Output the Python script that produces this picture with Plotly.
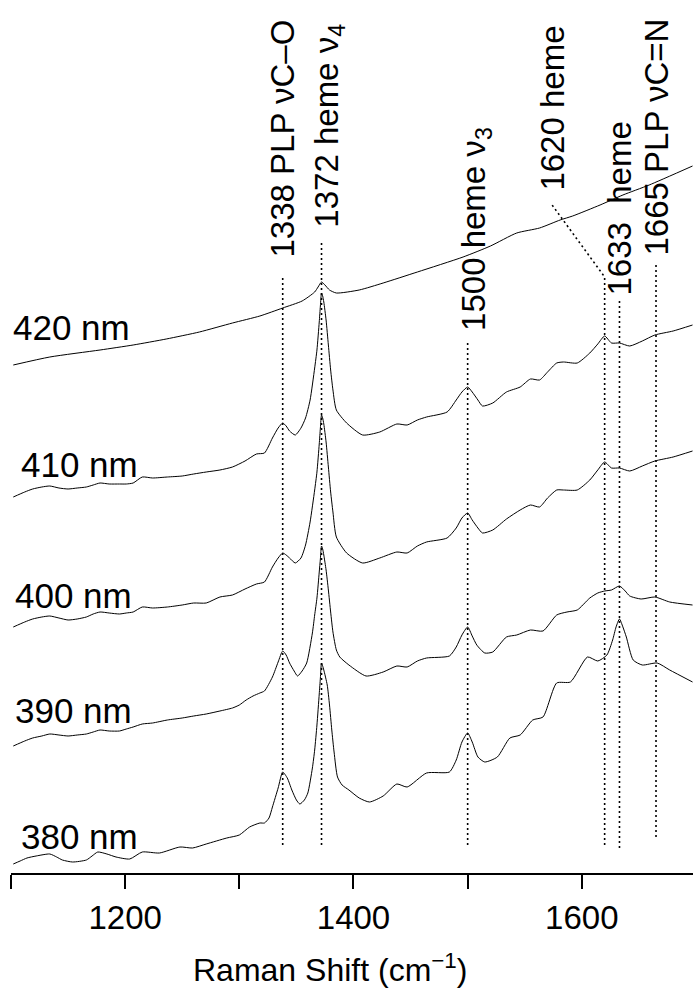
import plotly.graph_objects as go

# Raman shift grids (cm^-1) and offset intensities (a.u.) for each excitation wavelength
wn_420 = [1102, 1134, 1178, 1207, 1236, 1265, 1294, 1318, 1338, 1355,
          1366, 1369, 1372, 1375, 1379, 1385, 1405, 1426, 1456, 1496,
          1520, 1543, 1563, 1581, 1592, 1616, 1636, 1659, 1697]
int_420 = [508, 516, 523, 528, 534, 541, 550, 557, 565, 572,
           581, 586, 591, 588, 583, 580, 583, 590, 601, 616,
           627, 640, 645, 653, 657, 668, 678, 688, 707]

# 410 and 400 nm spectra share one grid
wn_410_400 = [1102, 1112, 1119, 1127, 1134, 1142, 1150, 1158, 1166, 1172,
              1178, 1186, 1195, 1201, 1207, 1215, 1224, 1237, 1250, 1260,
              1271, 1283, 1294, 1305, 1315, 1322, 1329, 1334, 1338, 1341,
              1344, 1349, 1354, 1358, 1362, 1366, 1368, 1370, 1371, 1372,
              1373, 1374, 1376, 1378, 1380, 1382, 1385, 1394, 1408, 1423,
              1438, 1447, 1456, 1464, 1482, 1490, 1495, 1500, 1504, 1509,
              1513, 1522, 1534, 1546, 1555, 1563, 1570, 1578, 1584, 1596,
              1607, 1614, 1620, 1626, 1633, 1642, 1653, 1664, 1680, 1697]
int_410 = [376, 381, 384, 386, 387, 385, 384, 385, 386, 388,
           390, 389, 389, 389, 390, 396, 395, 396, 397, 399,
           401, 403, 406, 412, 419, 420, 435, 445, 450, 447,
           442, 438, 445, 455, 473, 505, 523, 551, 567, 580,
           577, 571, 553, 528, 503, 483, 463, 450, 438, 441,
           449, 448, 453, 456, 461, 473, 481, 486, 481, 473,
           467, 470, 481, 486, 494, 493, 501, 510, 511, 510,
           520, 529, 537, 530, 530, 527, 532, 538, 542, 548]
int_400 = [246, 251, 254, 256, 257, 255, 253, 254, 256, 259,
           261, 260, 259, 260, 261, 266, 265, 266, 268, 270,
           270, 276, 278, 284, 289, 291, 306, 315, 320, 318,
           315, 310, 315, 328, 351, 383, 401, 429, 445, 458,
           455, 449, 431, 406, 381, 361, 336, 320, 310, 315,
           321, 320, 327, 331, 335, 345, 355, 360, 353, 345,
           340, 343, 354, 363, 368, 366, 375, 383, 383, 383,
           393, 403, 411, 405, 405, 402, 407, 412, 416, 422]

wn_390 = [1102, 1112, 1119, 1127, 1134, 1142, 1150, 1158, 1166, 1172,
          1178, 1186, 1195, 1201, 1207, 1215, 1224, 1237, 1250, 1260,
          1271, 1283, 1294, 1300, 1306, 1312, 1318, 1322, 1329, 1334,
          1338, 1341, 1344, 1348, 1351, 1355, 1359, 1364, 1366, 1368,
          1370, 1371, 1372, 1373, 1374, 1376, 1378, 1380, 1382, 1385,
          1388, 1396, 1411, 1426, 1438, 1447, 1456, 1464, 1484, 1490,
          1495, 1500, 1504, 1508, 1515, 1522, 1534, 1543, 1555, 1566,
          1578, 1587, 1596, 1607, 1614, 1620, 1626, 1633, 1638, 1642,
          1652, 1664, 1677, 1697]
int_390 = [127, 132, 135, 137, 139, 138, 137, 138, 139, 141,
           143, 142, 142, 144, 146, 149, 150, 153, 155, 157,
           159, 162, 165, 168, 173, 177, 180, 182, 196, 211,
           222, 218, 210, 202, 197, 202, 210, 240, 258, 275,
           301, 314, 327, 324, 318, 303, 283, 261, 241, 223,
           216, 208, 197, 201, 207, 206, 212, 215, 217, 226,
           238, 246, 237, 228, 220, 221, 236, 238, 243, 242,
           258, 261, 263, 275, 280, 282, 283, 287, 282, 277,
           274, 276, 271, 268]

wn_380 = [1102, 1108, 1114, 1122, 1134, 1140, 1145, 1154, 1166, 1171,
          1176, 1184, 1192, 1204, 1215, 1230, 1248, 1259, 1271, 1289,
          1300, 1309, 1318, 1322, 1326, 1329, 1334, 1338, 1342, 1346,
          1350, 1353, 1357, 1360, 1364, 1366, 1368, 1370, 1371, 1372,
          1373, 1374, 1377, 1379, 1381, 1383, 1386, 1390, 1396, 1405,
          1414, 1426, 1438, 1447, 1464, 1484, 1490, 1495, 1500, 1504,
          1509, 1515, 1526, 1537, 1546, 1557, 1566, 1578, 1590, 1605,
          1614, 1622, 1627, 1630, 1633, 1636, 1639, 1645, 1653, 1666,
          1677, 1697]
int_380 = [9, 12, 15, 17, 19, 16, 13, 11, 13, 17,
           21, 19, 16, 14, 21, 20, 26, 25, 29, 35,
           38, 46, 50, 50, 55, 66, 85, 101, 95, 83,
           73, 69, 73, 80, 105, 123, 148, 179, 195, 210,
           207, 203, 188, 168, 143, 121, 96, 88, 83, 75,
           71, 77, 89, 86, 100, 101, 113, 131, 140, 131,
           116, 111, 116, 135, 138, 153, 156, 190, 191, 216,
           212, 218, 233, 246, 254, 246, 236, 213, 208, 210,
           203, 191]

spectra = [
    ("420 nm", wn_420, int_420),
    ("410 nm", wn_410_400, int_410),
    ("400 nm", wn_410_400, int_400),
    ("390 nm", wn_390, int_390),
    ("380 nm", wn_380, int_380),
]

# Band assignments
band_positions = [1338, 1372, 1500, 1620, 1633, 1665]
band_labels = ["1338 PLP νC–O", "1372 heme ν<sub>4</sub>", "1500 heme ν<sub>3</sub>",
               "1620 heme", "1633\u00a0\u00a0heme", "1665 PLP νC=N"]

tick_values = [1100, 1200, 1300, 1400, 1500, 1600, 1700]
tick_labels = ["", "1200", "", "1400", "", "1600", ""]

FONT = "Liberation Sans, Arial, Helvetica, sans-serif"

fig = go.Figure()

for name, wn, inten in spectra:
    fig.add_trace(go.Scatter(x=wn, y=inten, mode="lines", name=name,
                             line=dict(color="black", width=1, shape="spline",
                                       smoothing=0.6),
                             showlegend=False, hoverinfo="skip"))

# marker lines for band positions: (bottom, top) in intensity units
marker_span = {1338: (28, 596), 1372: (28, 633), 1500: (28, 533),
               1620: (28, 596), 1633: (25, 573), 1665: (36, 610)}
dot = dict(color="black", width=1.6, dash="2px,3px")
for pos in band_positions:
    lo, hi = marker_span[pos]
    xs, ys = [pos, pos], [lo, hi]
    if pos == 1620:
        # leader bent toward the label that sits to the left
        xs.append(1574)
        ys.append(668)
    fig.add_trace(go.Scatter(x=xs, y=ys, mode="lines", line=dot,
                             showlegend=False, hoverinfo="skip"))

# rotated band labels: (x, bottom y, xshift)
label_place = {1338: (1337, 613, 0), 1372: (1373, 643, 6), 1500: (1502, 540, 6),
               1620: (1574, 680, 0), 1633: (1633, 576, 0), 1665: (1665, 615, 0)}
annotations = []
for pos, txt in zip(band_positions, band_labels):
    x, y, xs = label_place[pos]
    annotations.append(dict(x=x, y=y, text=txt, textangle=-90, showarrow=False,
                            xanchor="center", yanchor="bottom", xshift=xs,
                            font=dict(family=FONT, size=33, color="black")))

# wavelength labels at the left of each trace
wl_place = {"420 nm": (1100, 546), "410 nm": (1107, 409), "400 nm": (1102, 278),
            "390 nm": (1102, 163), "380 nm": (1107, 37)}
for name, _, _ in spectra:
    x, y = wl_place[name]
    annotations.append(dict(x=x, y=y, text=name, showarrow=False,
                            xanchor="left", yanchor="middle",
                            font=dict(family=FONT, size=35, color="black")))

# axis title, centred under the visible spectrum window
annotations.append(dict(x=0.468, y=0, xref="paper", yref="paper", yshift=-73,
                        text="Raman Shift (cm<sup>−1</sup>)", showarrow=False,
                        xanchor="center", yanchor="top",
                        font=dict(family=FONT, size=32, color="black")))

fig.update_layout(
    width=693, height=995,
    margin=dict(l=11, r=0, t=0, b=122),
    paper_bgcolor="white", plot_bgcolor="white",
    annotations=annotations,
    xaxis=dict(range=[1100, 1697.4], tickvals=tick_values, ticktext=tick_labels,
               ticks="outside", ticklen=14, tickwidth=2, tickcolor="black",
               showline=True, linecolor="black", linewidth=2,
               showgrid=False, zeroline=False,
               tickfont=dict(family=FONT, size=33, color="black")),
    yaxis=dict(range=[0, 873], visible=False, showgrid=False, zeroline=False),
)

fig.write_html("out.html")
